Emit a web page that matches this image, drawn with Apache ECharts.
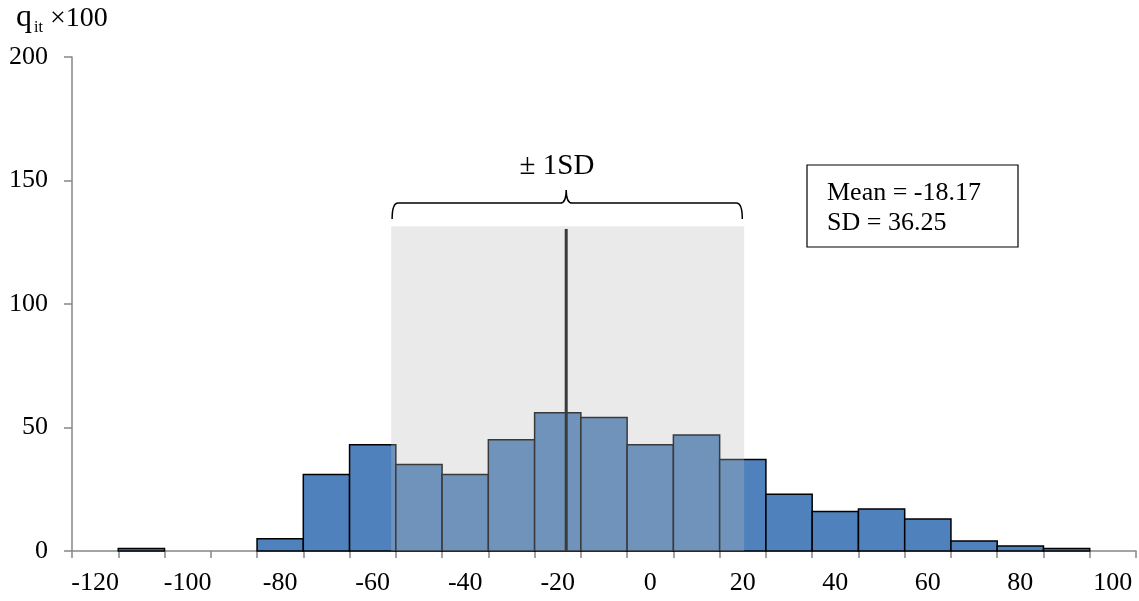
<!DOCTYPE html>
<html>
<head>
<meta charset="utf-8">
<script src="https://cdn.jsdelivr.net/npm/echarts@6/dist/echarts.min.js"></script>
<style>html,body{margin:0;padding:0;background:#fff;}#c{width:1139px;height:601px;}</style>
</head>
<body>
<div id="c"></div>
<script>
// ---- data ----
const binCenters = [-120,-110,-100,-90,-80,-70,-60,-50,-40,-30,-20,-10,0,10,20,30,40,50,60,70,80,90,100];
const counts     = [0,1,0,0,5,31,43,35,31,45,56,54,43,47,37,23,16,17,13,4,2,1,0];
const xTickLabels = [-120,-100,-80,-60,-40,-20,0,20,40,60,80,100];
const binEdges = [-125,-115,-105,-95,-85,-75,-65,-55,-45,-35,-25,-15,-5,5,15,25,35,45,55,65,75,85,95,105];
const meanVal = -18.17;
const sdVal = 36.25;
const shadeRange = [-56, 20.3];
const shadeTop = 131.5;
const meanLineTop = 130.4;
const binWidth = 10;

const FONT = 'Liberation Serif';
const FS = 26;
const fnt = (s) => s + 'px "' + FONT + '"';

const barData = binCenters.map((c, i) => [c, counts[i]]);

const chart = echarts.init(document.getElementById('c'), null, {renderer: 'canvas'});
chart.setOption({
  animation: false,
  backgroundColor: '#ffffff',
  grid: {left: 72, right: 3, top: 57, bottom: 50, containLabel: false},
  xAxis: {
    type: 'value', min: -125, max: 105,
    axisLine: {show: true, onZero: false, lineStyle: {color: '#868686', width: 1.5}},
    axisTick: {show: true, length: 7, inside: false, customValues: binEdges, lineStyle: {color: '#868686', width: 1.5}},
    axisLabel: {show: true, customValues: xTickLabels, margin: 19, color: '#000', fontFamily: FONT, fontSize: FS},
    splitLine: {show: false}
  },
  yAxis: {
    type: 'value', min: 0, max: 200, interval: 50,
    axisLine: {show: true, onZero: false, lineStyle: {color: '#868686', width: 1.5}},
    axisTick: {show: true, length: 8, inside: false, lineStyle: {color: '#868686', width: 1.5}},
    axisLabel: {margin: 24, color: '#000', fontFamily: FONT, fontSize: FS},
    splitLine: {show: false}
  },
  series: [
    {
      type: 'custom', z: 2,
      data: barData,
      encode: {x: 0, y: 1},
      renderItem: function (params, api) {
        const c = api.value(0), v = api.value(1);
        if (!v) return null;
        const p0 = api.coord([c - binWidth / 2, v]);
        const p1 = api.coord([c + binWidth / 2, 0]);
        return {type: 'rect', shape: {x: p0[0], y: p0[1], width: p1[0] - p0[0], height: p1[1] - p0[1]},
          style: {fill: '#4F81BD', stroke: '#000', lineWidth: 1.5}};
      }
    },
    {
      type: 'custom', z: 3,
      data: [[meanVal, meanLineTop]],
      encode: {x: 0, y: 1},
      renderItem: function (params, api) {
        const a = api.coord([api.value(0), 0]);
        const b = api.coord([api.value(0), api.value(1)]);
        return {type: 'line', shape: {x1: a[0], y1: a[1], x2: b[0], y2: b[1]}, style: {stroke: '#000', lineWidth: 3}};
      }
    },
    {
      type: 'custom', z: 4,
      data: [[shadeRange[0], shadeRange[1], shadeTop]],
      encode: {x: [0, 1], y: 2},
      renderItem: function (params, api) {
        const p0 = api.coord([api.value(0), api.value(2)]);
        const p1 = api.coord([api.value(1), 0]);
        return {type: 'rect', shape: {x: p0[0], y: p0[1], width: p1[0] - p0[0], height: p1[1] - p0[1]},
          style: {fill: 'rgba(187,187,187,0.31)'}};
      }
    },
    {
      type: 'custom', z: 5,
      data: [[shadeRange[0] + 0.2, meanVal, shadeRange[1] - 0.4]],
      encode: {x: [0, 1, 2]},
      renderItem: function (params, api) {
        const xl = api.coord([api.value(0), 0])[0];
        const xc = api.coord([api.value(1), 0])[0];
        const xr = api.coord([api.value(2), 0])[0];
        const yb = api.coord([0, 134.4])[1];
        const ym = api.coord([0, 140.9])[1];
        const yp = api.coord([0, 146.2])[1];
        const r = 6;
        const d = `M${xl},${yb} Q${xl},${ym} ${xl + r},${ym} L${xc - r},${ym} Q${xc},${ym} ${xc},${yp} Q${xc},${ym} ${xc + r},${ym} L${xr - r},${ym} Q${xr},${ym} ${xr},${yb}`;
        const t = api.coord([api.value(1) - 2, 155.8]);
        return {type: 'group', children: [
          {type: 'path', shape: {pathData: d}, style: {fill: null, stroke: '#000', lineWidth: 1.5}},
          {type: 'text', x: t[0], y: t[1], style: {text: '± 1SD', fill: '#000', font: fnt(29), align: 'center', verticalAlign: 'middle'}}
        ]};
      }
    }
  ],
  graphic: [
    {type: 'text', x: 16, y: 2, style: {text: 'q', fill: '#000', font: fnt(32)}},
    {type: 'text', x: 34, y: 20, style: {text: 'it', fill: '#000', font: fnt(16)}},
    {type: 'text', x: 50, y: 5, style: {text: '×100', fill: '#000', font: fnt(28)}},
    {type: 'group', x: 807, y: 165, children: [
      {type: 'rect', shape: {x: 0, y: 0, width: 211, height: 82}, style: {fill: '#fff', stroke: '#000', lineWidth: 1.2}},
      {type: 'text', x: 20, y: 15, style: {text: 'Mean = -18.17', fill: '#000', font: fnt(FS)}},
      {type: 'text', x: 20, y: 45.5, style: {text: 'SD = 36.25', fill: '#000', font: fnt(FS)}}
    ]}
  ]
});
</script>
</body>
</html>
